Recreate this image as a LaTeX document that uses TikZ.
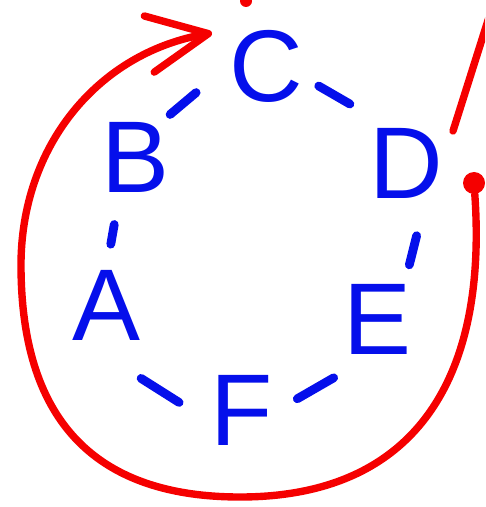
\documentclass[tikz,border=0pt]{standalone}
\usepackage{fontspec}
\setmainfont{Liberation Sans}
\usetikzlibrary{arrows.meta,decorations.markings}

\definecolor{inkblue}{RGB}{5,15,235}
\definecolor{inkred}{RGB}{245,0,0}

\tikzset{
  letter/.style={text=inkblue, inner sep=0pt, font=\fontsize{58}{58}\selectfont},
  dashstroke/.style={draw=inkblue, line width=5pt, line cap=round},
  link/.style 2 args={decorate, decoration={markings,
      mark=at position #1 with {\draw[dashstroke] (-#2,0) -- (#2,0);}}},
  redink/.style={draw=inkred, line width=4.2pt, line cap=round},
}

\begin{document}
\begin{tikzpicture}
    \useasboundingbox (0,-10.14) rectangle (9.7,0);
    \clip (0,-10.14) rectangle (9.7,0);
    % Letters

    \node[letter] (c) at (5.32,-1.32) {C};
    \node[letter] (b) at (2.70,-3.14) {B};
    \node[letter] (a) at (2.12,-6.10) {A};
    \node[letter] (f) at (4.84,-8.20) {F};
    \node[letter] (e) at (7.54,-6.38) {E};
    \node[letter] (d) at (8.12,-3.26) {D};
    % Dashes

    \path[link={0.67}{0.34cm}] (c) to[bend right=15] (b);
    \path[link={0.55}{0.2cm}] (b) to[bend right=7] (a);
    \path[link={0.55}{0.45cm}] (a) to[bend right=31] (f);
    \path[link={0.47}{0.42cm}] (f) to[bend right=21] (e);
    \path[link={0.41}{0.3cm}] (e) to[bend right=21] (d);
    \path[link={0.6}{0.36cm}] (d) to[bend right=13] (c);
    % Red loop

    \node[circle, fill=inkred, inner sep=0pt, minimum size=0.44cm] (start) at (9.48,-3.66) {};
    \coordinate (bottom) at (4.8,-9.94);
    \coordinate (leftside) at (0.42,-5.3);
    \coordinate (tip) at (4.24,-0.66);
    \draw[redink, -{Straight Barb[length=12mm, width=11.4mm, round]}] (start) to[out=-86, in=0, looseness=1.2] (bottom)
        to[out=180, in=-90, looseness=1.2] (leftside) to[out=90, in=190] (tip);

    \coordinate (slashlow) at (9.06,-2.62);
    \coordinate (slashhigh) at (9.92,0.1);
    \draw[redink] (slashlow) -- (slashhigh);
    \fill[inkred] (4.92,-0.02) circle (0.12);

\end{tikzpicture}
\end{document}
